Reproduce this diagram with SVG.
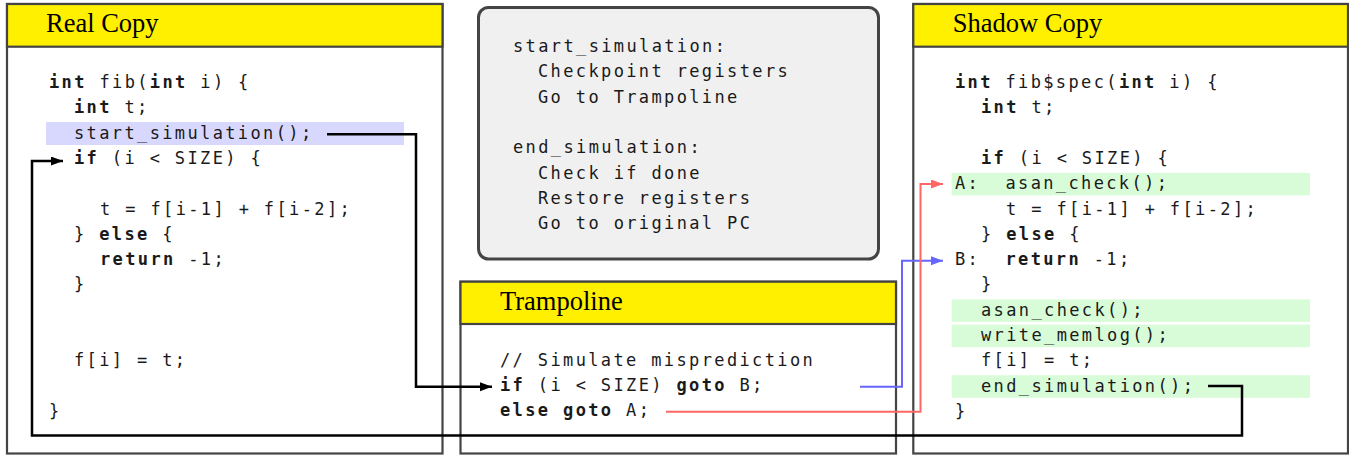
<svg xmlns="http://www.w3.org/2000/svg" width="1349" height="455" viewBox="0 0 1349 455">
<style>
.box{fill:#fff;stroke:#444;stroke-width:2.2}
.hdr{fill:#fff000;stroke:#444;stroke-width:2.2}
.title{font-family:"Liberation Serif","Times New Roman",serif;font-size:26.5px;fill:#000}
.code{font-family:"DejaVu Sans Mono","Liberation Mono",monospace;font-size:17px;letter-spacing:2.37px;fill:#1a1a1a;white-space:pre}
.b{font-weight:bold}
.hlb{fill:#d8d8ff}
.hlg{fill:#d8fcd8}
.conn{fill:none;stroke-width:2.5;stroke-linejoin:miter}
.thin{stroke-width:2}
</style>
<defs>
<marker id="ak" markerUnits="userSpaceOnUse" markerWidth="12" markerHeight="10" refX="12" refY="4.5" orient="auto"><path d="M0,0 L12,4.5 L0,9 z" fill="#000"/></marker>
<marker id="ab" markerUnits="userSpaceOnUse" markerWidth="12" markerHeight="10" refX="12" refY="4.5" orient="auto"><path d="M0,0 L12,4.5 L0,9 z" fill="#6666ff"/></marker>
<marker id="ar" markerUnits="userSpaceOnUse" markerWidth="12" markerHeight="10" refX="12" refY="4.5" orient="auto"><path d="M0,0 L12,4.5 L0,9 z" fill="#ff6666"/></marker>
</defs>
<rect width="1349" height="455" fill="#fff"/>

<g id="real-copy">
<rect class="box" x="7" y="4" width="435.5" height="449.5"/>
<rect class="hdr" x="7" y="4" width="435.5" height="42.7"/>
<text class="title" x="46" y="32.3">Real Copy</text>
<rect class="hlb" x="46" y="122" width="358" height="23"/>
<text class="code" xml:space="preserve" x="49" y="88"><tspan class="b">int</tspan> fib(<tspan class="b">int</tspan> i) {</text>
<text class="code" xml:space="preserve" x="74" y="113.3"><tspan class="b">int</tspan> t;</text>
<text class="code" xml:space="preserve" x="74" y="138.6">start_simulation();</text>
<text class="code" xml:space="preserve" x="74" y="163.9"><tspan class="b">if</tspan> (i &lt; SIZE) {</text>
<text class="code" xml:space="preserve" x="100" y="214.5">t = f[i-1] + f[i-2];</text>
<text class="code" xml:space="preserve" x="74" y="239.8">} <tspan class="b">else</tspan> {</text>
<text class="code" xml:space="preserve" x="100" y="265.1"><tspan class="b">return</tspan> -1;</text>
<text class="code" xml:space="preserve" x="74" y="290.4">}</text>
<text class="code" xml:space="preserve" x="74" y="366.3">f[i] = t;</text>
<text class="code" xml:space="preserve" x="49" y="417">}</text>
</g>

<g id="sim-routines">
<rect x="478.5" y="7.5" width="400" height="251.5" rx="10" fill="#f0f0f0" stroke="#444" stroke-width="3"/>
<text class="code" xml:space="preserve" x="513" y="52">start_simulation:</text>
<text class="code" xml:space="preserve" x="538" y="77.3">Checkpoint registers</text>
<text class="code" xml:space="preserve" x="538" y="102.6">Go to Trampoline</text>
<text class="code" xml:space="preserve" x="513" y="153.2">end_simulation:</text>
<text class="code" xml:space="preserve" x="538" y="178.5">Check if done</text>
<text class="code" xml:space="preserve" x="538" y="203.8">Restore registers</text>
<text class="code" xml:space="preserve" x="538" y="229.1">Go to original PC</text>
</g>

<g id="trampoline">
<rect class="box" x="460.5" y="281.7" width="435.5" height="171.8"/>
<rect class="hdr" x="460.5" y="281.7" width="435.5" height="42.3"/>
<text class="title" x="500" y="309.5">Trampoline</text>
<text class="code" xml:space="preserve" x="500" y="365.5">// Simulate misprediction</text>
<text class="code" xml:space="preserve" x="500" y="390.8"><tspan class="b">if</tspan> (i &lt; SIZE) <tspan class="b">goto</tspan> B;</text>
<text class="code" xml:space="preserve" x="500" y="416.1"><tspan class="b">else goto</tspan> A;</text>
</g>

<g id="shadow-copy">
<rect class="box" x="913.3" y="4" width="434.7" height="449.5"/>
<rect class="hdr" x="913.3" y="4" width="434.7" height="42.7"/>
<text class="title" x="952.7" y="32.3">Shadow Copy</text>
<rect class="hlg" x="951.7" y="172.9" width="358.3" height="22.5"/>
<rect class="hlg" x="951.7" y="299.4" width="358.3" height="22.5"/>
<rect class="hlg" x="951.7" y="324.7" width="358.3" height="22.5"/>
<rect class="hlg" x="951.7" y="375.3" width="358.3" height="22.5"/>
<text class="code" xml:space="preserve" x="955" y="88"><tspan class="b">int</tspan> fib$spec(<tspan class="b">int</tspan> i) {</text>
<text class="code" xml:space="preserve" x="981" y="113.3"><tspan class="b">int</tspan> t;</text>
<text class="code" xml:space="preserve" x="981" y="163.9"><tspan class="b">if</tspan> (i &lt; SIZE) {</text>
<text class="code" xml:space="preserve" x="955" y="189.2">A:  asan_check();</text>
<text class="code" xml:space="preserve" x="1006" y="214.5">t = f[i-1] + f[i-2];</text>
<text class="code" xml:space="preserve" x="981" y="239.8">} <tspan class="b">else</tspan> {</text>
<text class="code" xml:space="preserve" x="955" y="265.1">B:  <tspan class="b">return</tspan> -1;</text>
<text class="code" xml:space="preserve" x="981" y="290.4">}</text>
<text class="code" xml:space="preserve" x="981" y="315.7">asan_check();</text>
<text class="code" xml:space="preserve" x="981" y="341">write_memlog();</text>
<text class="code" xml:space="preserve" x="981" y="366.3">f[i] = t;</text>
<text class="code" xml:space="preserve" x="981" y="391.6">end_simulation();</text>
<text class="code" xml:space="preserve" x="955" y="416.9">}</text>
</g>

<g id="connectors">
<path class="conn" stroke="#000" d="M327,134.3 H416 V386.7 H492" marker-end="url(#ak)"/>
<path class="conn" stroke="#000" d="M1208,386 H1242 V435.5 H32 V161 H63" marker-end="url(#ak)"/>
<path class="conn thin" stroke="#6666ff" d="M860,386.7 H902 V260.7 H943" marker-end="url(#ab)"/>
<path class="conn thin" stroke="#ff6666" d="M666,411.7 H920.5 V184 H943" marker-end="url(#ar)"/>
</g>
</svg>
